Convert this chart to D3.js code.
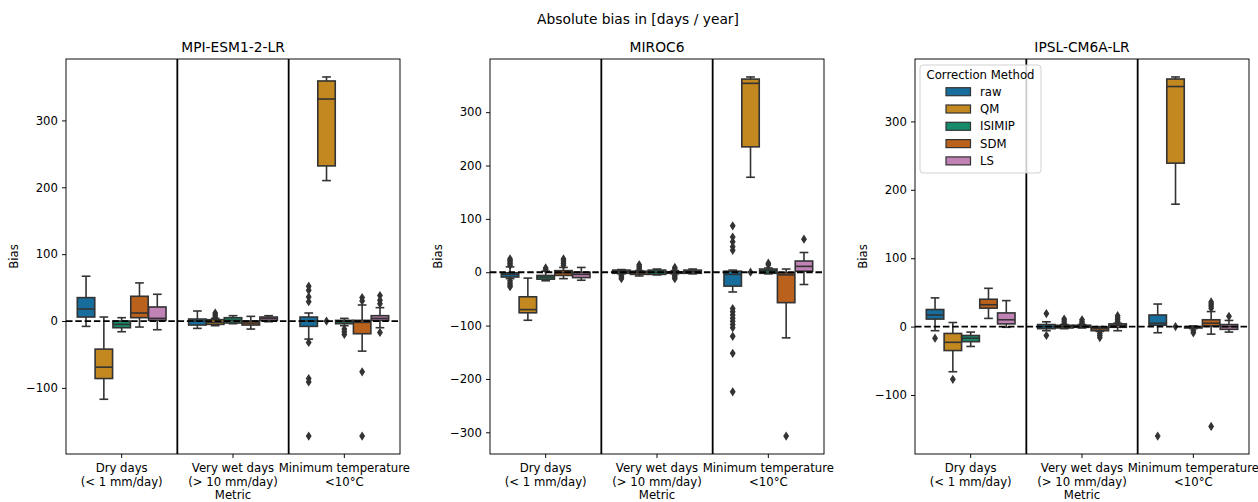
<!DOCTYPE html>
<html>
<head>
<meta charset="utf-8">
<script src="https://cdn.jsdelivr.net/npm/d3@7"></script>
<style>
  html, body { margin: 0; padding: 0; background: #fff; }
  svg { display: block; font-family: "DejaVu Sans", sans-serif; }
</style>
</head>
<body>
<svg id="chart" width="1258" height="502"></svg>
<script>
// ---- data -------------------------------------------------------------
const models = ["MPI-ESM1-2-LR", "MIROC6", "IPSL-CM6A-LR"];
const metrics = [
  ["Dry days", "(< 1 mm/day)"],
  ["Very wet days", "(> 10 mm/day)"],
  ["Minimum temperature", "<10°C"]
];
const methods = ["raw", "QM", "ISIMIP", "SDM", "LS"];
const methodColors = ["#176d9c", "#c38820", "#168b6b", "#ba611b", "#c182b5"];

// y tick values per model panel
const mpiTicks = [-100, 0, 100, 200, 300];
const mirocTicks = [-300, -200, -100, 0, 100, 200, 300];
const ipslTicks = [-100, 0, 100, 200, 300];

// box statistics per metric, per method: [whisker low, q1, median, q3, whisker high]
const mpiStats = [
  [[-8, 6, 18, 35, 67], [-117, -86, -69, -42, 6], [-16, -10, -5, 0, 5], [-9, 5, 12, 37, 57], [-13, 1, 4, 21, 40]],
  [[-11, -6, 0, 3, 15], [-7, -5, -2, 2, 4], [-4, -3, 1, 5, 8], [-12, -6, -3, 0, 7], [-1, 1, 4, 6, 8]],
  [[-27, -8, 0, 6, 12], [210, 232, 332, 359, 365], [-7, -4, -1, 1, 4], [-45, -19, -2, 1, 24], [-10, 1, 4, 8, 20]]
];
const mpiFliers = [
  [[], [], [], [], []],
  [[], [6, 9, 12], [], [], []],
  [[52, 46, 36, 29, -32, -86, -91, -172], [0], [-12, -16, -20], [35, 30, -76, -172], [38, 31, 26, -17]]
];

const mirocStats = [
  [[-12, -9, -4, -1, 10], [-90, -76, -70, -46, -11], [-16, -13, -9, -6, 2], [-12, -6, -1, 3, 9], [-15, -10, -4, 0, 9]],
  [[-3, -2, 1, 4, 5], [-7, -4, -1, 2, 3], [-5, -4, 0, 4, 6], [-3, -2, 0, 1, 3], [-3, -2, 1, 4, 6]],
  [[-37, -26, -4, 2, 4], [178, 235, 354, 362, 366], [-3, -2, 3, 6, 8], [-123, -57, -5, -1, 6], [-23, 2, 11, 21, 37]]
];
const mirocFliers = [
  [[13, 16, 19, 22, 25, -16, -20, -24, -27], [], [5, 8], [13, 17, 21, 25], []],
  [[-6, -9, -12], [5, 8, 11, 14], [], [6, 9, -6, -9, -12], []],
  [[87, 66, 57, 48, 41, -68, -74, -80, -86, -92, -98, -104, -120, -152, -224], [0], [14, 17], [-307], [62]]
];

const ipslStats = [
  [[-6, 11, 17, 25, 42], [-66, -35, -23, -10, 6], [-29, -22, -17, -13, -8], [12, 27, 32, 40, 56], [-1, 4, 10, 20, 38]],
  [[-6, -3, 0, 3, 7], [-3, -2, 0, 2, 3], [-2, -1, 1, 2, 3], [-7, -6, -3, -1, 0], [-6, -1, 2, 4, 5]],
  [[-9, 2, 5, 17, 33], [179, 239, 351, 362, 365], [-3, -2, -1, 0, 1], [-11, 1, 5, 10, 22], [-8, -4, 0, 3, 9]]
];
const ipslFliers = [
  [[-17], [-77], [], [], []],
  [[19, -13], [5, 8, 11], [5, 7, 10], [-10, -13, -16], [7, 10, 13, 16]],
  [[-160], [0], [-6, -9], [27, 30, 33, 36, -146], [15]]
];

const panels = [
  { name: models[0], ticks: mpiTicks, stats: mpiStats, fliers: mpiFliers },
  { name: models[1], ticks: mirocTicks, stats: mirocStats, fliers: mirocFliers },
  { name: models[2], ticks: ipslTicks, stats: ipslStats, fliers: ipslFliers }
];

// ---- layout -----------------------------------------------------------
const svg = d3.select("#chart");
const panelLeft = [66, 490, 915];
const panelW = 334;
const plotTop = 59, plotBottom = 454;
const lineGray = "#333333";
const smallFont = 11.7, bigFont = 13.8;
const fmt = d => d < 0 ? "\u2212" + Math.abs(d) : String(d);

svg.append("rect").attr("width", 1258).attr("height", 502).attr("fill", "#fff");

svg.append("text")
  .attr("x", 638).attr("y", 24)
  .attr("text-anchor", "middle")
  .attr("font-size", bigFont)
  .text("Absolute bias in [days / year]");

panels.forEach((p, pi) => {
  const left = panelLeft[pi], right = left + panelW;
  const g = svg.append("g");

  // y range follows the data with a 5% margin on each side
  const all = [];
  p.stats.forEach((m, mi) => m.forEach((s, si) => {
    all.push(...s, ...p.fliers[mi][si]);
  }));
  const lo = d3.min(all), hi = d3.max(all), pad = (hi - lo) * 0.05;
  const y = d3.scaleLinear().domain([lo - pad, hi + pad]).range([plotBottom, plotTop]);

  const x = d3.scaleBand().domain(d3.range(metrics.length)).range([left, right]);
  const bw = x.bandwidth();
  const hue = d3.scaleBand().domain(d3.range(methods.length)).range([-0.4 * bw, 0.4 * bw]);
  const boxW = hue.bandwidth() * 0.98;
  const capW = boxW * 0.5;

  // boxes
  p.stats.forEach((metricStats, mi) => {
    metricStats.forEach((s, si) => {
      const cx = x(mi) + bw / 2 + hue(si) + hue.bandwidth() / 2;
      const [wl, q1, med, q3, wh] = s;
      const bg = g.append("g");
      // whiskers
      bg.append("line").attr("x1", cx).attr("x2", cx).attr("y1", y(q3)).attr("y2", y(wh))
        .attr("stroke", lineGray).attr("stroke-width", 1.6);
      bg.append("line").attr("x1", cx).attr("x2", cx).attr("y1", y(q1)).attr("y2", y(wl))
        .attr("stroke", lineGray).attr("stroke-width", 1.6);
      [wl, wh].forEach(v => {
        bg.append("line").attr("x1", cx - capW / 2).attr("x2", cx + capW / 2)
          .attr("y1", y(v)).attr("y2", y(v))
          .attr("stroke", lineGray).attr("stroke-width", 1.6);
      });
      // box body
      bg.append("rect")
        .attr("x", cx - boxW / 2).attr("width", boxW)
        .attr("y", y(q3)).attr("height", Math.max(0.5, y(q1) - y(q3)))
        .attr("fill", methodColors[si])
        .attr("stroke", lineGray).attr("stroke-width", 1.6);
      // median
      bg.append("line").attr("x1", cx - boxW / 2).attr("x2", cx + boxW / 2)
        .attr("y1", y(med)).attr("y2", y(med))
        .attr("stroke", lineGray).attr("stroke-width", 1.6);
      // outliers
      p.fliers[mi][si].forEach(v => {
        bg.append("path")
          .attr("d", "M0,-3.6L2.3,0L0,3.6L-2.3,0Z")
          .attr("transform", `translate(${cx},${y(v)})`)
          .attr("fill", lineGray).attr("stroke", lineGray).attr("stroke-width", 1.1);
      });
    });
  });

  // metric separators
  [1, 2].forEach(i => {
    g.append("line").attr("x1", x(i)).attr("x2", x(i)).attr("y1", plotTop).attr("y2", plotBottom)
      .attr("stroke", "#000").attr("stroke-width", 1.8);
  });

  // zero reference
  g.append("line").attr("x1", left).attr("x2", right).attr("y1", y(0)).attr("y2", y(0))
    .attr("stroke", "#000").attr("stroke-width", 1.8).attr("stroke-dasharray", "6.5,2.8");

  // frame
  g.append("rect").attr("x", left).attr("y", plotTop).attr("width", panelW).attr("height", plotBottom - plotTop)
    .attr("fill", "none").attr("stroke", "#000").attr("stroke-width", 0.95);

  // y axis
  const ya = g.append("g").attr("transform", `translate(${left},0)`)
    .call(d3.axisLeft(y).tickValues(p.ticks).tickSize(4).tickPadding(4).tickFormat(fmt));
  ya.select(".domain").remove();
  ya.selectAll("text").attr("font-size", smallFont).attr("font-family", "DejaVu Sans").attr("fill", "#000");
  ya.selectAll("line").attr("stroke", "#000").attr("stroke-width", 0.95);

  // x axis with two-line labels
  const xa = g.append("g").attr("transform", `translate(0,${plotBottom})`)
    .call(d3.axisBottom(x).tickSize(4).tickPadding(4).tickFormat(""));
  xa.select(".domain").remove();
  xa.selectAll("line").attr("stroke", "#000").attr("stroke-width", 0.95);
  xa.selectAll(".tick").each(function (d) {
    const t = d3.select(this).append("text")
      .attr("fill", "#000").attr("font-size", smallFont).attr("font-family", "DejaVu Sans")
      .attr("text-anchor", "middle");
    t.append("tspan").attr("x", 0).attr("y", 17.5).text(metrics[d][0]);
    t.append("tspan").attr("x", 0).attr("y", 31.5).text(metrics[d][1]);
  });

  // labels
  g.append("text").attr("x", left + panelW / 2).attr("y", 499)
    .attr("text-anchor", "middle").attr("font-size", smallFont).text("Metric");
  const ylx = left - 8 - d3.max(p.ticks.map(fmt), s => s.length) * 7.4 - 10;
  g.append("text")
    .attr("transform", `translate(${ylx},${(plotTop + plotBottom) / 2}) rotate(-90)`)
    .attr("text-anchor", "middle").attr("font-size", smallFont).text("Bias");

  g.append("text").attr("x", left + panelW / 2).attr("y", 52)
    .attr("text-anchor", "middle").attr("font-size", bigFont).text(p.name);

  // legend in the last panel
  if (pi === 2) {
    const lg = svg.append("g").attr("transform", `translate(${left + 5},65)`);
    lg.append("rect").attr("width", 121).attr("height", 108).attr("rx", 3)
      .attr("fill", "#fff").attr("fill-opacity", 0.8)
      .attr("stroke", "#cccccc").attr("stroke-width", 0.9);
    lg.append("text").attr("x", 60.5).attr("y", 14).attr("text-anchor", "middle")
      .attr("font-size", smallFont).text("Correction Method");
    methods.forEach((m, i) => {
      const cy = 26.7 + i * 17.3;
      lg.append("rect").attr("x", 26).attr("y", cy - 4).attr("width", 24.5).attr("height", 8)
        .attr("fill", methodColors[i]).attr("stroke", lineGray).attr("stroke-width", 1.2);
      lg.append("text").attr("x", 60).attr("y", cy + 4).attr("font-size", smallFont).text(m);
    });
  }
});
</script>
</body>
</html>
